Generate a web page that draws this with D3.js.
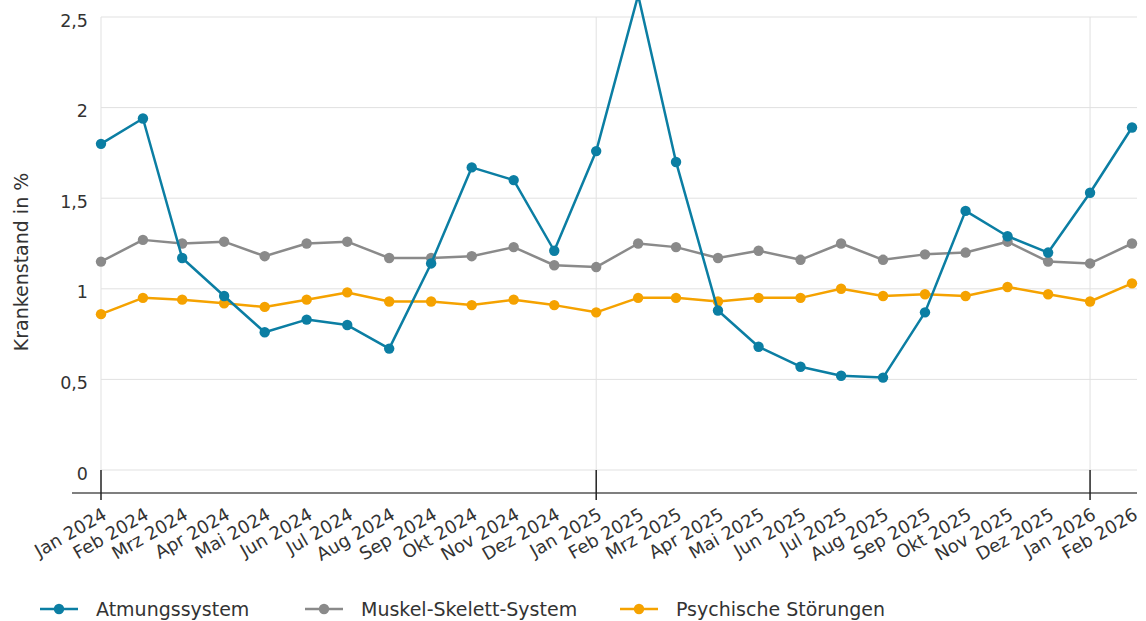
<!DOCTYPE html>
<html lang="de">
<head>
<meta charset="utf-8">
<title>Krankenstand nach Diagnosegruppen</title>
<script src="https://cdn.jsdelivr.net/npm/d3@7"></script>
<style>
  html, body { margin: 0; padding: 0; background: #ffffff; }
  svg { display: block; font-family: "DejaVu Sans", "Noto Sans", sans-serif; }
</style>
</head>
<body>
<svg id="chart" width="1146" height="621"></svg>
<script>
// Monthly periods (first day of each month)
const periods = [
  "2024-01", "2024-02", "2024-03", "2024-04", "2024-05", "2024-06",
  "2024-07", "2024-08", "2024-09", "2024-10", "2024-11", "2024-12",
  "2025-01", "2025-02", "2025-03", "2025-04", "2025-05", "2025-06",
  "2025-07", "2025-08", "2025-09", "2025-10", "2025-11", "2025-12",
  "2026-01", "2026-02"
];

// Month labels on the x axis
const xLabels = [
  "Jan 2024", "Feb 2024", "Mrz 2024", "Apr 2024", "Mai 2024", "Jun 2024",
  "Jul 2024", "Aug 2024", "Sep 2024", "Okt 2024", "Nov 2024", "Dez 2024",
  "Jan 2025", "Feb 2025", "Mrz 2025", "Apr 2025", "Mai 2025", "Jun 2025",
  "Jul 2025", "Aug 2025", "Sep 2025", "Okt 2025", "Nov 2025", "Dez 2025",
  "Jan 2026", "Feb 2026"
];

// Sick-leave rate in percent per diagnosis group
const atmungssystem = [
  1.80, 1.94, 1.17, 0.96, 0.76, 0.83, 0.80, 0.67, 1.14, 1.67, 1.60, 1.21,
  1.76, 2.62, 1.70, 0.88, 0.68, 0.57, 0.52, 0.51, 0.87, 1.43, 1.29, 1.20,
  1.53, 1.89
];
const muskelSkelett = [
  1.15, 1.27, 1.25, 1.26, 1.18, 1.25, 1.26, 1.17, 1.17, 1.18, 1.23, 1.13,
  1.12, 1.25, 1.23, 1.17, 1.21, 1.16, 1.25, 1.16, 1.19, 1.20, 1.26, 1.15,
  1.14, 1.25
];
const psychisch = [
  0.86, 0.95, 0.94, 0.92, 0.90, 0.94, 0.98, 0.93, 0.93, 0.91, 0.94, 0.91,
  0.87, 0.95, 0.95, 0.93, 0.95, 0.95, 1.00, 0.96, 0.97, 0.96, 1.01, 0.97,
  0.93, 1.03
];

// Y axis tick values and their labels
const yTicks = [0, 0.5, 1, 1.5, 2, 2.5];
const yTickLabels = ["0", "0,5", "1", "1,5", "2", "2,5"];

const seriesNames = ["Atmungssystem", "Muskel-Skelett-System", "Psychische Störungen"];
const seriesValues = [atmungssystem, muskelSkelett, psychisch];
const seriesColors = ["#0b7ea3", "#8a8a8a", "#f5a200"];

const yAxisTitle = "Krankenstand in %";

// ---------------------------------------------------------------
const svg = d3.select("#chart");
const parse = d3.utcParse("%Y-%m");
const dates = periods.map(parse);

const plot = { left: 101, right: 1137, top: 17, bottom: 470 };
const x = d3.scaleUtc()
  .domain([dates[0], dates[dates.length - 1]])
  .range([101, 1132]);
const y = d3.scaleLinear().domain([0, 2.5]).range([plot.bottom, plot.top]);

const textColor = "#333333";
const gridColor = "#e1e1e1";

// Horizontal grid lines
svg.append("g").selectAll("line")
  .data(yTicks)
  .join("line")
  .attr("x1", plot.left).attr("x2", plot.right)
  .attr("y1", d => y(d)).attr("y2", d => y(d))
  .attr("stroke", gridColor).attr("stroke-width", 1);

// Vertical grid lines at the start of each year
const yearStarts = dates.filter(d => d.getUTCMonth() === 0);
svg.append("g").selectAll("line")
  .data(yearStarts)
  .join("line")
  .attr("x1", d => x(d)).attr("x2", d => x(d))
  .attr("y1", plot.top).attr("y2", plot.bottom)
  .attr("stroke", gridColor).attr("stroke-width", 1);

// Y tick labels
svg.append("g").selectAll("text")
  .data(yTicks)
  .join("text")
  .attr("x", 88)
  .attr("y", d => y(d) + 9.5)
  .attr("text-anchor", "end")
  .attr("font-size", 17.5)
  .attr("fill", textColor)
  .text((d, i) => yTickLabels[i]);

// Y axis title
svg.append("text")
  .attr("transform", "translate(28,262) rotate(-90)")
  .attr("text-anchor", "middle")
  .attr("font-size", 19)
  .attr("fill", textColor)
  .text(yAxisTitle);

// X axis baseline
svg.append("line")
  .attr("x1", 72).attr("x2", plot.right)
  .attr("y1", 493).attr("y2", 493)
  .attr("stroke", "#555555").attr("stroke-width", 1.5);

// Year tick marks
svg.append("g").selectAll("line")
  .data(yearStarts)
  .join("line")
  .attr("x1", d => x(d)).attr("x2", d => x(d))
  .attr("y1", plot.bottom).attr("y2", 500)
  .attr("stroke", "#222222").attr("stroke-width", 1.5);

// X tick labels (rotated)
svg.append("g").selectAll("text")
  .data(dates)
  .join("text")
  .attr("transform", d => `translate(${x(d) + 7},518) rotate(-30)`)
  .attr("text-anchor", "end")
  .attr("font-size", 18)
  .attr("fill", textColor)
  .text((d, i) => xLabels[i]);

// Lines and markers; drawn bottom-up so Atmungssystem sits on top
const line = d3.line()
  .x((d, i) => x(dates[i]))
  .y(d => y(d));

const order = [2, 1, 0];
order.forEach(k => {
  const g = svg.append("g");
  g.append("path")
    .datum(seriesValues[k])
    .attr("d", line)
    .attr("fill", "none")
    .attr("stroke", seriesColors[k])
    .attr("stroke-width", 2.5)
    .attr("stroke-linejoin", "round");
  g.selectAll("circle")
    .data(seriesValues[k])
    .join("circle")
    .attr("cx", (d, i) => x(dates[i]))
    .attr("cy", d => y(d))
    .attr("r", 5.2)
    .attr("fill", seriesColors[k]);
});

// Legend
const legendX = [40, 305, 620];
const legendY = 609;
const legend = svg.append("g").selectAll("g")
  .data(seriesNames)
  .join("g")
  .attr("transform", (d, i) => `translate(${legendX[i]},${legendY})`);
legend.append("line")
  .attr("x1", 0).attr("x2", 38)
  .attr("y1", 0).attr("y2", 0)
  .attr("stroke", (d, i) => seriesColors[i])
  .attr("stroke-width", 2.5);
legend.append("circle")
  .attr("cx", 19).attr("cy", 0).attr("r", 5.2)
  .attr("fill", (d, i) => seriesColors[i]);
legend.append("text")
  .attr("x", 56).attr("y", 7)
  .attr("font-size", 19)
  .attr("fill", textColor)
  .text(d => d);
</script>
</body>
</html>
